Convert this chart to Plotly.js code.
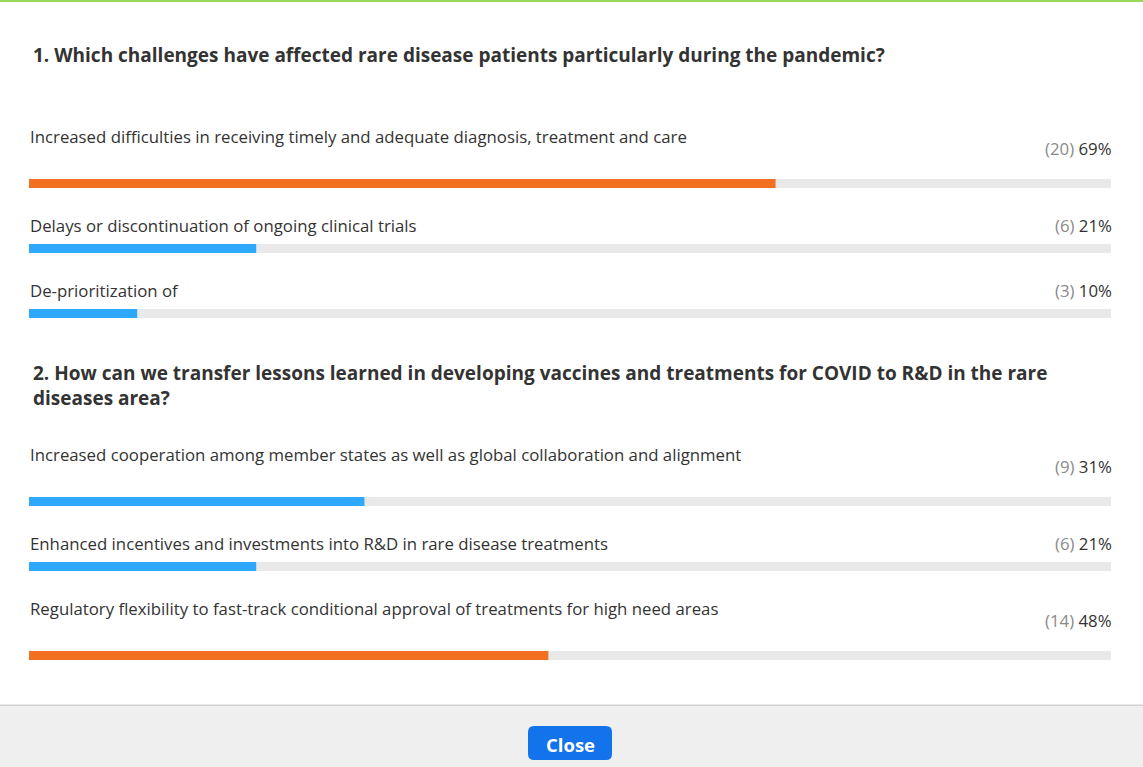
<!DOCTYPE html>
<html>
<head>
<meta charset="utf-8">
<script src="https://cdn.plot.ly/plotly-3.0.1.min.js"></script>
<style>
html,body{margin:0;padding:0;background:#fff;}
#chart{width:1143px;height:767px;}
</style>
</head>
<body>
<div id="chart"></div>
<script>
// ---- data ----
const q1Title = "1. Which challenges have affected rare disease patients particularly during the pandemic?";
const q1Labels = [
  "Increased difficulties in receiving timely and adequate diagnosis, treatment and care",
  "Delays or discontinuation of ongoing clinical trials",
  "De-prioritization of"
];
const q1Counts = [20, 6, 3];
const q1Pct = [69, 21, 10];

const q2Title = "2. How can we transfer lessons learned in developing vaccines and treatments for COVID to R&D in the rare<br>diseases area?";
const q2Labels = [
  "Increased cooperation among member states as well as global collaboration and alignment",
  "Enhanced incentives and investments into R&D in rare disease treatments",
  "Regulatory flexibility to fast-track conditional approval of treatments for high need areas"
];
const q2Counts = [9, 6, 14];
const q2Pct = [31, 21, 48];

const buttonText = "Close";

// ---- layout constants (pixel-like y coordinates) ----
const W = 1143, H = 767;
const trackLeft = 29, trackRight = 1111;
const pxPer = (trackRight - trackLeft) / 100;
const xRange = [-trackLeft / pxPer, 100 + (W - trackRight) / pxPer];
const barH = 9;
const ORANGE = "#F37021", BLUE = "#2DA8FA", TRACK = "#E9E9E9";
const TXT = "#333333", GRAY = "#8a8a8a";
const FONT = "'Segoe UI', 'Open Sans', 'Noto Sans', sans-serif";
const LABEL_SIZE = 16.8, TITLE_SIZE = 19;

const rows = [
  // q1
  {bar: 183.5, label: 136, val: 148.5},
  {bar: 248.5, label: 225, val: 225},
  {bar: 313.5, label: 290, val: 290},
  // q2
  {bar: 501.5, label: 454, val: 466.5},
  {bar: 566.5, label: 543, val: 543},
  {bar: 655.5, label: 608, val: 620.5}
];

const allLabels = q1Labels.concat(q2Labels);
const allCounts = q1Counts.concat(q2Counts);
const allPct = q1Pct.concat(q2Pct);
const colorFor = (arr) => { const m = Math.max(...arr); return arr.map(v => v === m ? ORANGE : BLUE); };
const allColors = colorFor(q1Pct).concat(colorFor(q2Pct));
const barY = rows.map(r => r.bar);

const traces = [
  {type: "bar", orientation: "h", y: barY, x: allPct.map(() => 100), base: 0,
   width: barH, marker: {color: TRACK}, hoverinfo: "skip", showlegend: false},
  {type: "bar", orientation: "h", y: barY, x: allPct, base: 0,
   width: barH, marker: {color: allColors}, hoverinfo: "skip", showlegend: false}
];

const px = (p) => (p - trackLeft) / pxPer;

const annotations = [];
annotations.push({xref: "x", yref: "y", x: px(31), y: 55, xanchor: "left", yanchor: "middle",
  text: "<b>" + q1Title + "</b>", showarrow: false, font: {family: FONT, size: TITLE_SIZE, color: TXT}, align: "left"});
annotations.push({xref: "x", yref: "y", x: px(31), y: 385, xanchor: "left", yanchor: "middle",
  text: "<b>" + q2Title + "</b>", showarrow: false, font: {family: FONT, size: TITLE_SIZE, color: TXT}, align: "left"});

rows.forEach((r, i) => {
  annotations.push({xref: "x", yref: "y", x: px(28), y: r.label, xanchor: "left", yanchor: "middle",
    text: allLabels[i], showarrow: false, font: {family: FONT, size: LABEL_SIZE, color: TXT}, align: "left"});
  annotations.push({xref: "x", yref: "y", x: px(1113.5), y: r.val, xanchor: "right", yanchor: "middle",
    text: '<span style="color:' + GRAY + '">(' + allCounts[i] + ')</span> ' + allPct[i] + '%',
    showarrow: false, font: {family: FONT, size: LABEL_SIZE, color: TXT}, align: "right"});
});

annotations.push({xref: "x", yref: "y", x: px(570), y: 744.5, xanchor: "center", yanchor: "middle",
  text: "<b>" + buttonText + "</b>", showarrow: false, font: {family: FONT, size: 18.5, color: "#ffffff"}});

// rounded button path in data coords (x in data units, y in pixel-like units)
const bx0 = px(528), bx1 = px(612);
const by0 = 726, by1 = 760, rr = 6, rx = rr / pxPer;
const btnPath = `M ${bx0 + rx} ${by0} L ${bx1 - rx} ${by0} Q ${bx1} ${by0} ${bx1} ${by0 + rr} L ${bx1} ${by1 - rr} Q ${bx1} ${by1} ${bx1 - rx} ${by1} L ${bx0 + rx} ${by1} Q ${bx0} ${by1} ${bx0} ${by1 - rr} L ${bx0} ${by0 + rr} Q ${bx0} ${by0} ${bx0 + rx} ${by0} Z`;

const shapes = [
  {type: "rect", xref: "paper", yref: "y", x0: 0, x1: 1, y0: 0, y1: 2, fillcolor: "#98D95C", line: {width: 0}, layer: "below"},
  {type: "rect", xref: "paper", yref: "y", x0: 0, x1: 1, y0: 705, y1: 767, fillcolor: "#EFEFEF", line: {width: 0}, layer: "below"},
  {type: "rect", xref: "paper", yref: "y", x0: 0, x1: 1, y0: 704.5, y1: 706, fillcolor: "#D2D2D2", line: {width: 0}, layer: "below"},
  {type: "path", xref: "x", yref: "y", path: btnPath, fillcolor: "#1273EB", line: {width: 0}, layer: "above"}
];

const layout = {
  width: W, height: H,
  margin: {l: 0, r: 0, t: 0, b: 0, pad: 0},
  paper_bgcolor: "#ffffff", plot_bgcolor: "#ffffff",
  barmode: "overlay",
  xaxis: {range: xRange, visible: false, fixedrange: true},
  yaxis: {range: [H, 0], visible: false, fixedrange: true},
  annotations: annotations,
  shapes: shapes,
  showlegend: false,
  font: {family: FONT}
};

Plotly.newPlot("chart", traces, layout, {displayModeBar: false, staticPlot: true});
</script>
</body>
</html>
